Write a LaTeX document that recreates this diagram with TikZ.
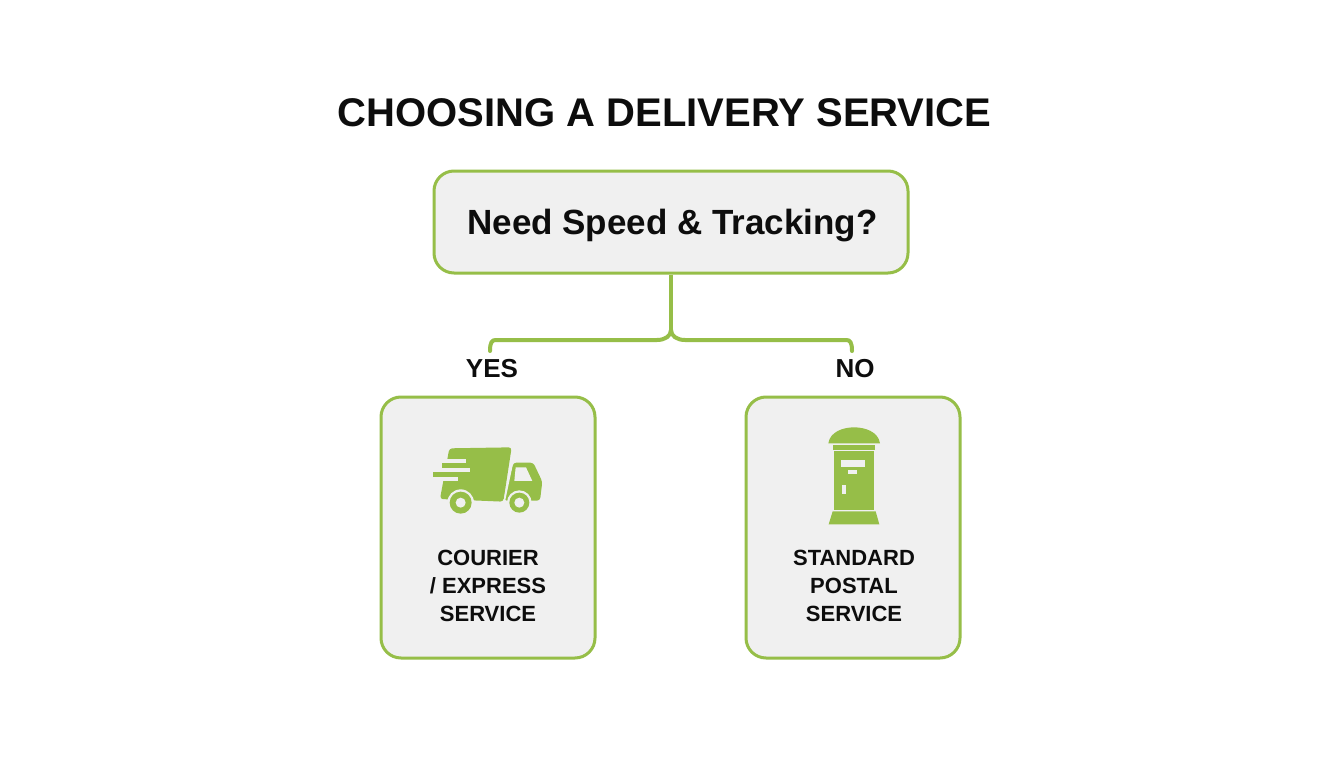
\documentclass[tikz,border=0pt]{standalone}
\usepackage{fontspec}
\setmainfont{Liberation Sans}
\definecolor{leaf}{RGB}{150,190,72}
\definecolor{panel}{RGB}{240,240,240}
\tikzset{
  box/.style={draw=leaf,line width=3pt,fill=panel,rounded corners=20pt,inner sep=0pt},
  link/.style={draw=leaf,line width=4pt},
  titletext/.style={font=\bfseries\fontsize{40}{44}\selectfont,text=black!95},
  asktext/.style={font=\bfseries\fontsize{35}{38}\selectfont,text=black!95},
  branchtext/.style={font=\bfseries\fontsize{26}{30}\selectfont,text=black!95},
  svctext/.style={font=\bfseries\fontsize{22}{28}\selectfont,text=black!95,align=center},
  icon/.style={fill=leaf,draw=none}
}
\begin{document}
\begin{tikzpicture}[x=1pt,y=-1pt]
\useasboundingbox (0,0) rectangle (1344,768);
\fill[white] (0,0) rectangle (1344,768);
\node[titletext] (title) at (664.5,113) {CHOOSING A DELIVERY SERVICE};
\node[box,minimum width=474pt,minimum height=102pt] (ask) at (671,222) {};
\node[asktext] (asklabel) at (672.5,225.5) {Need Speed \& Tracking?};
\node[box,minimum width=214pt,minimum height=261pt] (courier) at (488,527.5) {};
\node[box,minimum width=214pt,minimum height=261pt] (postal) at (853,527.5) {};
\coordinate (fork) at (671,330);
\coordinate (yesbend) at (657,340);
\coordinate (nobend) at (685,340);
\coordinate (yesshoulder) at (496,340);
\coordinate (noshoulder) at (846,340);
\coordinate (yesend) at (490,351);
\coordinate (noend) at (852,351);
\draw[link] (ask.south) -- (fork);
\draw[link,line cap=round] (fork) .. controls (671,336) and (665,340) .. (yesbend) -- (yesshoulder) .. controls (492,340) and (490,342) .. (yesend);
\draw[link,line cap=round] (fork) .. controls (671,336) and (677,340) .. (nobend) -- (noshoulder) .. controls (850,340) and (852,342) .. (noend);
\node[branchtext] (yes) at (492,369) {YES};
\node[branchtext] (no) at (855,369) {NO};
\node[svctext] (courierlabel) at (488,586) {COURIER\\/ EXPRESS\\SERVICE};
\node[svctext] (postallabel) at (854,586) {STANDARD\\POSTAL\\SERVICE};
% truck
\begin{scope}[shift={(420,430)},x=0.3333pt,y=-0.3333pt]
\fill[icon,rounded corners=3pt] (88,55) -- (275,52) -- (250,215) -- (60,207) -- cycle;
\fill[icon,rounded corners=3pt] (280,98) -- (340,98) -- (367,155) -- (360,212) -- (252,212) -- cycle;
\fill[panel] (287,112) -- (318,112) -- (337,153) -- (283,153) -- cycle;
\fill[panel] (60,87) rectangle (137,99);
\fill[panel] (55,114) rectangle (150,126);
\fill[panel] (35,141) rectangle (115,154);
\fill[icon] (65,100) rectangle (137,113);
\fill[icon] (40,127) rectangle (150,140);
\fill[panel] (276,92) -- (281,92) -- (255,215) -- (250,215) -- cycle;
\fill[panel] (122,218) circle (40);
\fill[panel] (298,218) circle (37);
\fill[icon] (122,218) circle (33);
\fill[icon] (298,218) circle (30);
\fill[panel] (122,218) circle (15);
\fill[panel] (298,218) circle (15);
\end{scope}
% pillar box
\begin{scope}[shift={(800,415)},x=0.3333pt,y=-0.3333pt]
\fill[icon] (85,85) .. controls (90,50) and (130,37) .. (162,37) .. controls (195,37) and (235,50) .. (240,85) -- cycle;
\fill[icon] (100,90) rectangle (224,106);
\fill[icon] (103,109) rectangle (221,285);
\fill[icon] (98,289) -- (227,289) -- (238,328) -- (86,328) -- cycle;
\fill[panel] (122,136) rectangle (196,156);
\fill[panel] (144,164) rectangle (172,176);
\fill[panel] (125,211) rectangle (138,236);
\end{scope}
\end{tikzpicture}
\end{document}
